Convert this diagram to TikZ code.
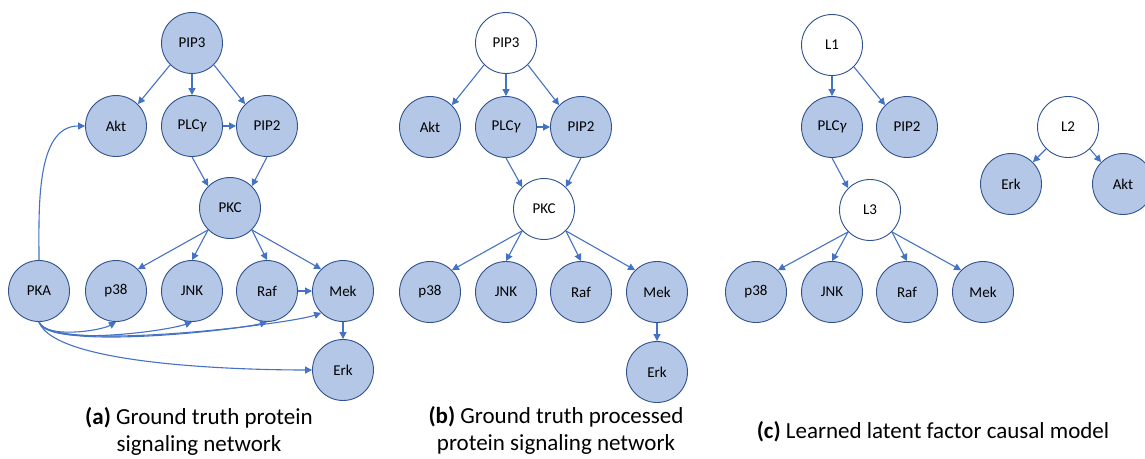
\documentclass[tikz,border=0pt]{standalone}
\usepackage{fontspec}
\setmainfont{Carlito}
\usetikzlibrary{arrows.meta}
\definecolor{obsfill}{HTML}{B4C7E7}
\definecolor{nodeline}{HTML}{2F528F}
\definecolor{edgeblue}{HTML}{4472C4}
\tikzset{
  obs/.style={circle,draw=nodeline,fill=obsfill,line width=0.9pt,minimum size=61pt,inner sep=0pt,font=\fontsize{15}{17}\selectfont},
  lat/.style={obs,fill=white},
  edge/.style={draw=edgeblue,line width=1.1pt,-{Triangle[length=7pt,width=7pt]}},
  caption/.style={font=\fontsize{23}{27}\selectfont,align=center}
}
\newcommand{\plcg}{PLC{\itshape γ}}
\begin{document}
\begin{tikzpicture}[x=1pt,y=1pt]
\useasboundingbox (0,0) rectangle (1145,-458);
% (a) ground truth network
\node[obs] (a-pip3) at (192,-43) {PIP3};
\node[obs] (a-akt) at (116,-126) {Akt};
\node[obs] (a-plc) at (192,-126) {\plcg};
\node[obs] (a-pip2) at (267,-126) {PIP2};
\node[obs] (a-pkc) at (230,-208) {PKC};
\foreach \n/\t/\x in {pka/PKA/39,p38/p38/116,jnk/JNK/192,raf/Raf/267,mek/Mek/343}{
	\node[obs] (a-\n) at (\x,-291) {\t};}
\node[obs] (a-erk) at (343,-370) {Erk};
\draw[edge] (a-pip3.south west) -- (a-akt.north east);
\draw[edge] (a-pip3) -- (a-plc);
\draw[edge] (a-pip3.south east) -- (a-pip2.north west);
\draw[edge] (a-plc) -- (a-pip2);
\draw[edge] (a-plc.south) -- (a-pkc.north west);
\draw[edge] (a-pip2.south) -- (a-pkc.north east);
\draw[edge] (a-pkc.south west) -- (a-p38.north east);
\draw[edge] (a-pkc.south west) -- (a-jnk.north);
\draw[edge] (a-pkc.south east) -- (a-raf.north);
\draw[edge] (a-pkc.south east) -- (a-mek.north west);
\draw[edge] (a-raf) -- (a-mek);
\draw[edge] (a-mek) -- (a-erk);
\draw[edge] (a-pka.north) to[out=90,in=180,looseness=0.9] (a-akt.west);
\draw[edge] (a-pka.south) to[out=-70,in=-150,looseness=0.6] (a-p38.south);
\draw[edge] (a-pka.south) to[out=-70,in=-160,looseness=0.45] (a-jnk.south);
\draw[edge] (a-pka.south) to[out=-70,in=-165,looseness=0.35] (a-raf.south);
\draw[edge] (a-pka.south) to[out=-70,in=-160,looseness=0.3] (a-mek.south west);
\draw[edge] (a-pka.south) to[out=-70,in=180,looseness=0.45] (a-erk.west);
\node[caption] (a-cap) at (199,-431) {\textbf{(a)} Ground truth protein\\signaling network};
% (b) processed network
\node[lat] (b-pip3) at (506,-43) {PIP3};
\node[obs] (b-akt) at (430,-127) {Akt};
\node[obs] (b-plc) at (506,-127) {\plcg};
\node[obs] (b-pip2) at (581,-127) {PIP2};
\node[lat] (b-pkc) at (544,-209) {PKC};
\foreach \n/\t/\x in {p38/p38/430,jnk/JNK/506,raf/Raf/581,mek/Mek/657}{
	\node[obs] (b-\n) at (\x,-292) {\t};}
\node[obs] (b-erk) at (657,-372) {Erk};
\draw[edge] (b-pip3.south west) -- (b-akt.north east);
\draw[edge] (b-pip3) -- (b-plc);
\draw[edge] (b-pip3.south east) -- (b-pip2.north west);
\draw[edge] (b-plc) -- (b-pip2);
\draw[edge] (b-plc.south) -- (b-pkc.north west);
\draw[edge] (b-pip2.south) -- (b-pkc.north east);
\draw[edge] (b-pkc.south west) -- (b-p38.north east);
\draw[edge] (b-pkc.south west) -- (b-jnk.north);
\draw[edge] (b-pkc.south east) -- (b-raf.north);
\draw[edge] (b-pkc.south east) -- (b-mek.north west);
\draw[edge] (b-mek) -- (b-erk);
\node[caption] (b-cap) at (556,-430) {\textbf{(b)} Ground truth processed\\protein signaling network};
% (c) learned latent model
\node[lat] (c-l1) at (832,-45) {L1};
\node[obs] (c-plc) at (832,-127) {\plcg};
\node[obs] (c-pip2) at (907,-127) {PIP2};
\node[lat] (c-l3) at (870,-210) {L3};
\foreach \n/\t/\x in {p38/p38/756,jnk/JNK/832,raf/Raf/907,mek/Mek/983}{
	\node[obs] (c-\n) at (\x,-292) {\t};}
\node[lat] (c-l2) at (1068,-127) {L2};
\node[obs] (c-erk) at (1011,-184) {Erk};
\node[obs] (c-akt) at (1123,-184) {Akt};
\draw[edge] (c-l1) -- (c-plc);
\draw[edge] (c-l1.south east) -- (c-pip2.north west);
\draw[edge] (c-plc.south) -- (c-l3.north west);
\draw[edge] (c-l3.south west) -- (c-p38.north east);
\draw[edge] (c-l3.south west) -- (c-jnk.north);
\draw[edge] (c-l3.south east) -- (c-raf.north);
\draw[edge] (c-l3.south east) -- (c-mek.north west);
\draw[edge] (c-l2.south west) -- (c-erk.north east);
\draw[edge] (c-l2.south east) -- (c-akt.north west);
\node[caption] (c-cap) at (933,-432) {\textbf{(c)} Learned latent factor causal model};
\end{tikzpicture}
\end{document}
